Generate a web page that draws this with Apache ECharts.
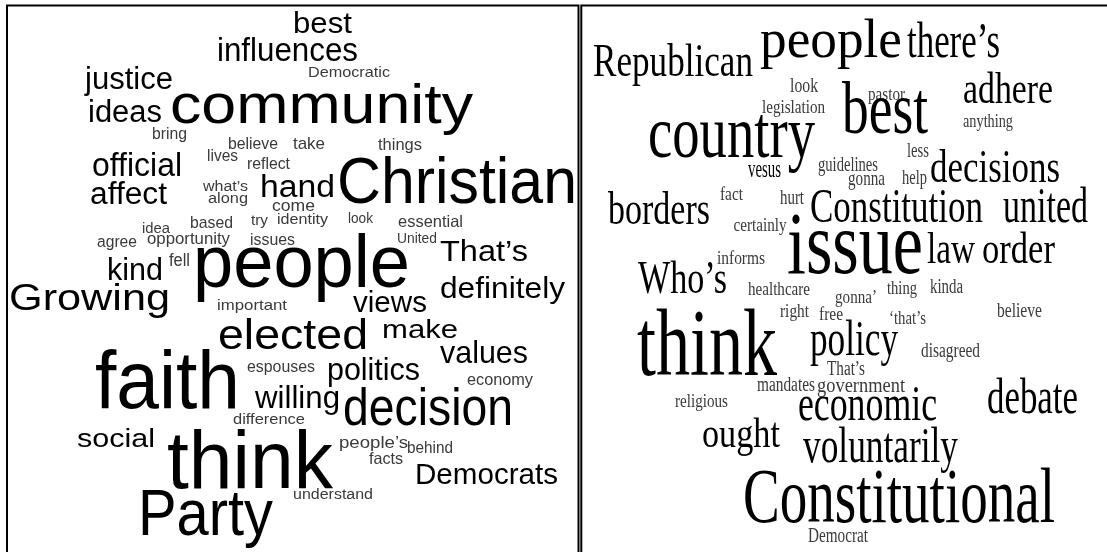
<!DOCTYPE html>
<html>
<head>
<meta charset="utf-8">
<script src="https://cdn.jsdelivr.net/npm/echarts@6/dist/echarts.min.js"></script>
<style>
html,body{margin:0;padding:0;background:#fff;overflow:hidden;}
#wrap{width:1107px;height:552px;overflow:hidden;position:relative;}
#chart{width:1250px;height:640px;position:absolute;left:0;top:0;}
</style>
</head>
<body>
<div id="wrap"><div id="chart"></div></div>
<script>
// ---------- Left cloud (sans) ----------
const leftWords = ["best","influences","Democratic","justice","community","ideas","bring","believe","take","things","lives","reflect","official","Christian","what’s","hand","affect","along","come","based","try","identity","look","essential","idea","agree","opportunity","issues","United","That’s","kind","fell","people","Growing","important","definitely","views","elected","make","values","faith","espouses","politics","economy","willing","decision","difference","social","people’s","behind","facts","think","Democrats","understand","Party"];
const leftWeight = [29,33,15,31,56,31,16,17,17,16,16,16,33,65,15.5,31,31,15.5,17,17,15.5,15.5,14,16.5,15.5,16,16,16.5,15,29.5,32,18,75,36,15,30,29,43,25,32,81,16,30.5,16,32,51,15.5,26,17,16.5,16.5,81,29.5,15.5,65];
const leftX = [322.5,287.5,349,129,321.5,125,169.5,253,309,400,222.5,268.5,137,457,225.5,297.5,128.5,228,293.5,211.5,259.5,302.5,360.5,430.5,156,117,188.5,272.5,417,484,135,179.5,301.5,89.5,252,502.5,390,293,420,484,167.5,281,373.5,500,297.5,428,269,116,373.5,430,386,250,486.5,333,205.5];
const leftY = [33,61,77,89,123,122,139,149,149,150,161,169,176,203,191,197,204,203,211,228,225,224,223,227,233,247,244,245,243,261,280,266,287,310,310,298,312,349,338,363,408,372,380,385,408,425,424,447,448,453,464,488,484,499,535];
const leftWidth = [59,141,82,88,303,74,35,50,32,44,31,43,90,240,45,75,77,40,43,43,17,51,25,65,28,40,83,45,40,88,56,21,217,161,70,125,74,150,76,88,145,68,93,66,85,170,72,78,69,46,34,166,143,80,135];

// ---------- Right cloud (serif) ----------
const rightWords = ["Republican","people","there’s","look","pastor","adhere","legislation","best","anything","country","less","vesus","guidelines","gonna","help","decisions","fact","hurt","borders","Constitution","united","certainly","issue","law","order","informs","Who’s","healthcare","gonna’","thing","kinda","believe","right","free","‘that’s","think","policy","disagreed","That’s","mandates","government","religious","economic","debate","ought","voluntarily","Constitutional","Democrat"];
const rightWeight = [47,54,50,20,18,44,19,73,18,75,20,25,21,21,21,47,19,21,47,49,50,19,88,45,45,19,47,19,19,19,20,20,18,19,19,95,51,20,20,20,20,18,51,51,43,50,79,20];
const rightX = [673,831,953.5,804,886.5,1008,793.5,885,988,731.5,918,764.5,848,866.5,914.5,995,731.5,792,659,896.5,1045.5,760,855,951,1018.5,741,682.5,779,856,902,946.5,1019.5,794.5,831,907.5,707,854,950.5,846,786,861,701.5,867.5,1032.5,741,880.5,899,838];
const rightY = [76,57,57,92,100,103,113,133,127,157,157,177,171,185,184,182,200,204,224,222,222,231,273,263,263,264,293,295,303,294,293,317,317,320,324,375,355,357,375,391,392,407,420,413,447,462,522,542];
const rightWidth = [160,142,93,28,37,90,63,86,50,167,22,33,60,37,25,130,23,24,102,173,85,53,136,48,73,48,89,62,42,30,33,45,29,24,37,140,88,59,38,58,88,53,139,91,78,155,312,60];

const SANS = '"Liberation Sans", Arial, sans-serif';
const SERIF = '"Liberation Serif", "Times New Roman", serif';

const mctx = document.createElement('canvas').getContext('2d');
function measure(text, size, family) {
  mctx.font = 'normal normal ' + size + 'px ' + family;
  mctx.textBaseline = 'alphabetic';
  const m1 = mctx.measureText(text);
  mctx.textBaseline = 'middle';
  const m2 = mctx.measureText(text);
  let off = 0.34 * size;
  if (m1.fontBoundingBoxAscent !== undefined && m2.fontBoundingBoxAscent !== undefined) {
    const d = m1.fontBoundingBoxAscent - m2.fontBoundingBoxAscent;
    if (d > 0.1 * size && d < 0.6 * size) off = d;
  }
  return { w: m1.width, off: off };
}

function cloudSeries(idx, words, weight, xs, ys, widths, family) {
  return {
    type: 'custom',
    coordinateSystem: 'cartesian2d',
    xAxisIndex: idx,
    yAxisIndex: idx,
    silent: true,
    clip: false,
    animation: false,
    data: words.map((w, i) => [xs[i], ys[i], weight[i]]),
    renderItem: function (params, api) {
      const i = params.dataIndex;
      const s = weight[i];
      const pt = api.coord([api.value(0), api.value(1)]);
      const m = measure(words[i], s, family);
      const sx = widths[i] / m.w;
      return {
        type: 'text',
        x: pt[0],
        y: pt[1] - m.off,
        scaleX: sx,
        scaleY: 1,
        originX: 0,
        originY: 0,
        style: {
          text: words[i],
          x: 0,
          y: 0,
          fontSize: s,
          fontFamily: family,
          fontWeight: 'normal',
          fill: s <= 22 ? '#3a3a3a' : '#000',
          align: 'center',
          textAlign: 'center',
          verticalAlign: 'middle',
          textVerticalAlign: 'middle'
        }
      };
    }
  };
}

const L = { left: 7, top: 5.5, width: 571.5, height: 600 };
const R = { left: 581.3, top: 5.5, width: 620, height: 600 };

const chart = echarts.init(document.getElementById('chart'), null, { renderer: 'canvas' });
chart.setOption({
  backgroundColor: '#fff',
  animation: false,
  grid: [
    Object.assign({ show: true, borderColor: '#000', borderWidth: 2, backgroundColor: 'transparent' }, L),
    Object.assign({ show: true, borderColor: '#000', borderWidth: 2, backgroundColor: 'transparent' }, R)
  ],
  xAxis: [
    { type: 'value', gridIndex: 0, min: L.left, max: L.left + L.width, show: false },
    { type: 'value', gridIndex: 1, min: R.left, max: R.left + R.width, show: false }
  ],
  yAxis: [
    { type: 'value', gridIndex: 0, min: L.top, max: L.top + L.height, inverse: true, show: false },
    { type: 'value', gridIndex: 1, min: R.top, max: R.top + R.height, inverse: true, show: false }
  ],
  series: [
    cloudSeries(0, leftWords, leftWeight, leftX, leftY, leftWidth, SANS),
    cloudSeries(1, rightWords, rightWeight, rightX, rightY, rightWidth, SERIF)
  ]
});
</script>
</body>
</html>
